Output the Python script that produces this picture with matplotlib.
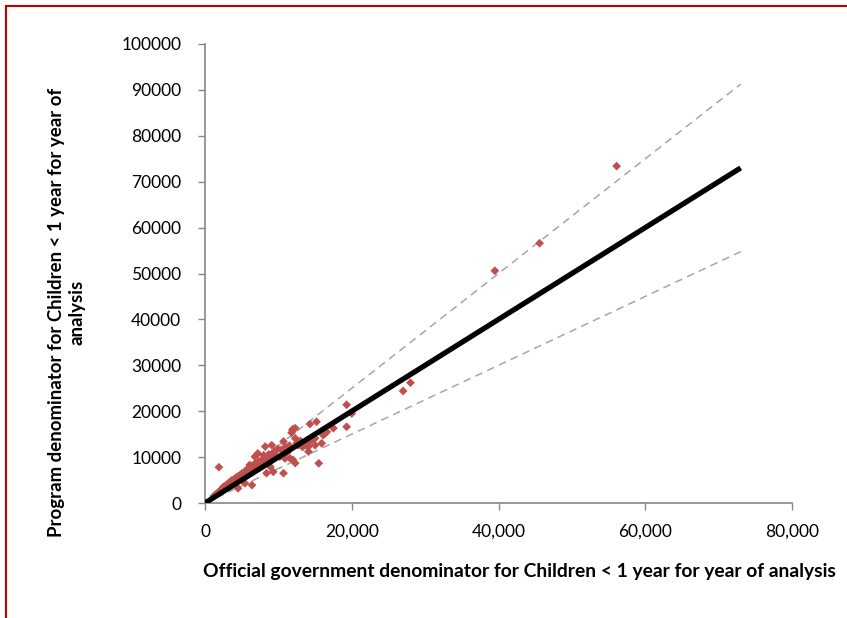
import numpy as np
import matplotlib
matplotlib.use("Agg")
import matplotlib.pyplot as plt
from matplotlib.patches import Rectangle

# official (x) vs program (y) denominators, thousands of children < 1 year
official_k = [1.2, 1.5, 1.8, 1.9, 2.0, 2.2, 2.4, 2.5, 2.7, 2.8, 3.0, 3.1, 3.3, 3.4, 3.5,
              3.6, 3.8, 3.9, 4.0, 4.2, 4.3, 4.5, 4.5, 4.6, 4.8, 4.9, 5.0, 5.2, 5.2, 5.4,
              5.45, 5.5, 5.6, 5.7, 5.8, 6.0, 6.1, 6.2, 6.3, 6.4, 6.5, 6.6, 6.8, 6.8, 7.0,
              7.2, 7.3, 7.5, 7.6, 7.8, 7.9, 8.0, 8.2, 8.2, 8.4, 8.5, 8.7, 8.9, 9.1, 9.0,
              9.3, 9.3, 9.5, 9.7, 9.9, 10.2, 10.4, 10.7, 10.7, 10.9, 11.0, 11.2, 11.5, 11.6,
              11.8, 11.9, 12.0, 12.0, 12.3, 12.3, 12.3, 12.5, 12.7, 13.0, 13.3, 13.6, 13.9,
              14.1, 14.1, 14.1, 14.3, 14.5, 15.0, 15.0, 15.2, 15.5, 15.9, 16.1, 16.4, 16.6,
              17.5, 19.3, 19.3, 20.0, 27.0, 28.0, 39.5, 45.6, 56.1]
program_k = [1.5, 1.9, 2.3, 7.8, 2.6, 2.9, 3.1, 3.5, 3.3, 3.8, 3.6, 4.2, 3.9, 4.5, 3.7,
             4.9, 4.3, 5.1, 4.6, 5.5, 4.9, 3.2, 5.8, 5.2, 6.1, 5.5, 6.4, 5.9, 6.1, 6.6,
             4.3, 7.0, 6.3, 7.2, 6.7, 7.5, 8.3, 6.9, 7.8, 3.9, 8.1, 7.3, 10.1, 8.6, 7.8,
             10.8, 9.0, 7.9, 8.4, 9.5, 8.7, 10.4, 12.3, 9.2, 6.5, 9.8, 10.6, 7.9, 12.6, 9.6,
             10.8, 6.8, 11.3, 10.2, 11.8, 10.1, 11.6, 13.4, 6.5, 9.7, 12.2, 11.0, 12.5, 9.7,
             15.3, 15.9, 16.1, 9.4, 16.3, 14.1, 8.7, 13.0, 12.6, 13.5, 12.2, 12.6, 12.6,
             11.2, 13.4, 12.3, 17.2, 13.7, 14.1, 12.6, 17.7, 8.65, 13.0, 14.8, 15.2, 15.5,
             16.3, 21.4, 16.6, 19.5, 24.4, 26.2, 50.6, 56.6, 73.4]

# reference line y = x and the +/- 25% bands
line_x = [0, 73000]
line_y = [0, 73000]
upper_y = [0, 91250]
lower_y = [0, 54750]

x_ticks = [0, 20000, 40000, 60000, 80000]
x_labels = ["0", "20,000", "40,000", "60,000", "80,000"]
y_ticks = list(range(0, 100001, 10000))

x = np.array(official_k) * 1000
y = np.array(program_k) * 1000

plt.rcParams["font.family"] = ["Lato", "DejaVu Sans"]

fig = plt.figure(figsize=(8.47, 6.18), dpi=100)
ax = fig.add_axes([205/847, 1-503/618, 587/847, 459/618])

ax.plot(line_x, upper_y, color="#A6A6A6", lw=1.1, dashes=(5, 3.5), zorder=1)
ax.plot(line_x, lower_y, color="#A6A6A6", lw=1.1, dashes=(5, 3.5), zorder=1)
ax.scatter(x, y, marker="D", s=20, color="#C0504D", edgecolors="none", zorder=2)
ax.plot(line_x, line_y, color="black", lw=3.8, solid_capstyle="butt", zorder=3)

ax.set_xlim(0, 80000)
ax.set_ylim(0, 100000)
ax.set_xticks(x_ticks)
ax.set_xticklabels(x_labels)
ax.set_yticks(y_ticks)
ax.set_yticklabels([str(v) for v in y_ticks])
ax.tick_params(labelsize=12.5, colors="black", length=5, width=1, direction="out")
ax.tick_params(axis="y", pad=12)
ax.tick_params(axis="x", pad=10)
for s in ["top", "right"]:
    ax.spines[s].set_visible(False)
for s in ["left", "bottom"]:
    ax.spines[s].set_color("#868686")
    ax.spines[s].set_linewidth(1.2)
ax.tick_params(color="#868686")

fig.text(203/847, 1-572/618, "Official government denominator for Children < 1 year for year of analysis",
         fontsize=13.9, fontweight="bold", ha="left", va="center")
fig.text(67/847, 1-312/618, "Program denominator for Children < 1 year for year of\nanalysis",
         fontsize=13.4, fontweight="bold", ha="center", va="center", rotation=90, linespacing=1.25)

# red frame around the chart area (cut off at right and bottom)
fig.patches.append(Rectangle((6/847, -0.1), 1.2, 1 - 6/618 + 0.1, transform=fig.transFigure,
                             fill=False, edgecolor="#C00000", lw=1.5))

fig.savefig("out.png", dpi=100)
